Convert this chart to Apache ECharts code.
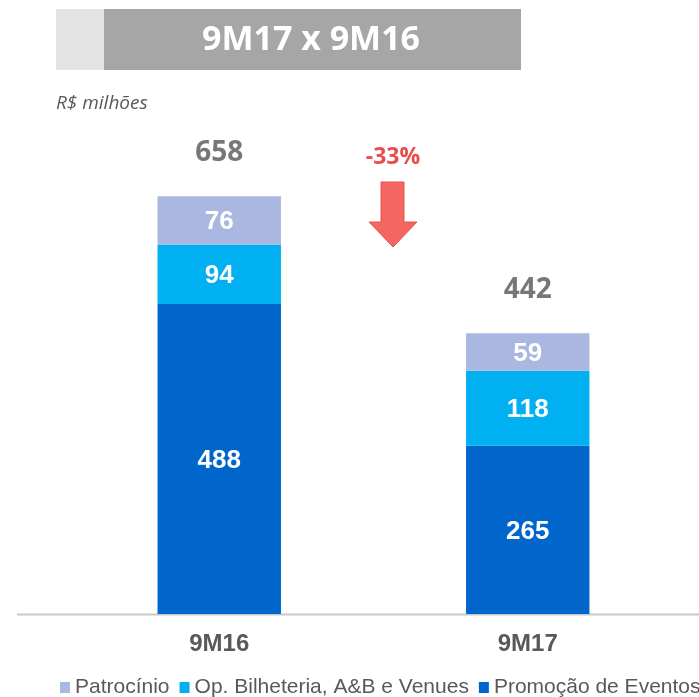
<!DOCTYPE html>
<html>
<head>
<meta charset="utf-8">
<script src="https://cdn.jsdelivr.net/npm/echarts@6/dist/echarts.min.js"></script>
<style>html,body{margin:0;padding:0;background:#fff}#c{width:699px;height:697px}</style>
</head>
<body>
<div id="c"></div>
<script>
const categories = ['9M16', '9M17'];
const patrocinio = [76, 59];
const opBilheteria = [94, 118];
const promocao = [488, 265];
const totals = [658, 442];
const seriesNames = ['Patrocínio', 'Op. Bilheteria, A&B e Venues', 'Promoção de Eventos'];
const titleText = '9M17 x 9M16';
const unitText = 'R$ milhões';
const variationText = '-33%';

const chart = echarts.init(document.getElementById('c'));
const segLabel = {
  show: true, position: 'inside', color: '#fff', offset: [0, 2],
  fontFamily: 'Liberation Sans, Arial, sans-serif', fontWeight: 'bold', fontSize: 26
};
chart.setOption({
  animation: false,
  grid: { left: 65, right: 17, top: 169.5, bottom: 83, containLabel: false },
  xAxis: {
    type: 'category', data: categories,
    axisLine: { show: false }, axisTick: { show: false },
    axisLabel: { margin: 18, color: '#595959', fontFamily: 'Liberation Sans, Arial, sans-serif', fontWeight: 'bold', fontSize: 24 }
  },
  yAxis: { type: 'value', min: 0, max: 700, show: false, splitLine: { show: false } },
  legend: {
    data: seriesNames, left: 55, top: 672, width: 1200, itemWidth: 10, itemHeight: 11, itemGap: 10, icon: 'rect',
    textStyle: { color: '#595959', fontFamily: 'Liberation Sans, Arial, sans-serif', fontSize: 21 }
  },
  series: [
    { name: seriesNames[2], type: 'bar', stack: 't', barWidth: 123.4, data: promocao, itemStyle: { color: '#0066cc' }, label: segLabel },
    { name: seriesNames[1], type: 'bar', stack: 't', barWidth: 123.4, data: opBilheteria, itemStyle: { color: '#00b0f0' }, label: segLabel },
    { name: seriesNames[0], type: 'bar', stack: 't', barWidth: 123.4, data: patrocinio, itemStyle: { color: '#aab7e0' }, label: segLabel },
    { name: 'Total', type: 'scatter', data: totals, symbolSize: 1, itemStyle: { color: 'rgba(0,0,0,0)' }, silent: true,
      label: { show: true, position: 'top', distance: 29, formatter: p => String(p.value), color: '#555555',
        fontFamily: 'Open Sans, sans-serif', fontWeight: 'bold', fontSize: 28 } }
  ],
  graphic: [
    { type: 'rect', shape: { x: 56, y: 9, width: 48, height: 61 }, style: { fill: '#e3e3e3' } },
    { type: 'rect', shape: { x: 104, y: 9, width: 417, height: 61 }, style: { fill: '#a6a6a6' } },
    { type: 'text', x: 311, y: 40, style: { text: titleText, fill: '#fff', font: 'bold 34px "Open Sans", sans-serif', textAlign: 'center', textVerticalAlign: 'middle' } },
    { type: 'text', x: 56, y: 104, style: { text: unitText, fill: '#595959', font: 'italic 19px "Open Sans", sans-serif', textAlign: 'left', textVerticalAlign: 'middle' } },
    { type: 'text', x: 393, y: 157, style: { text: variationText, fill: '#ea4c4c', font: 'bold 23px "Open Sans", sans-serif', textAlign: 'center', textVerticalAlign: 'middle' } },
    { type: 'polygon', shape: { points: [[381,182],[404,182],[404,222],[417,222],[393,247],[369,222],[381,222]] }, style: { fill: '#f4665f', stroke: '#e5534f', lineWidth: 1 } },
    { type: 'line', shape: { x1: 17, y1: 614.5, x2: 699, y2: 614.5 }, style: { stroke: '#c8c8c8', lineWidth: 2 }, z: 0 }
  ]
});
</script>
</body>
</html>
